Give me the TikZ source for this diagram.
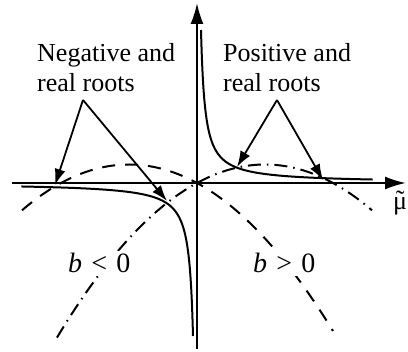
\documentclass[tikz,border=0pt]{standalone}
\usepackage{fontspec}
\setmainfont{Liberation Serif}
\usetikzlibrary{arrows.meta}
\begin{document}
\begin{tikzpicture}[x=1pt,y=-1pt,
  axis/.style={line width=2pt,-{Latex[length=21pt,width=13pt]}},
  curve/.style={line width=2pt},
  dashcurve/.style={line width=2pt,dash pattern=on 13pt off 10pt},
  dotcurve/.style={line width=2pt,dash pattern=on 13pt off 6pt on 1.5pt off 6pt},
  pointer/.style={line width=1.8pt,-{Latex[length=16pt,width=11pt]}},
  lbl/.style={font=\fontsize{26}{30}\selectfont,inner sep=0pt,align=left,anchor=north west},
  blbl/.style={font=\fontsize{28}{30}\selectfont,inner sep=3pt,fill=white,anchor=base west}]
\useasboundingbox (0,0) rectangle (408,352);
% axes
\coordinate (O) at (197,183);
\coordinate (xl) at (12,183);
\coordinate (xr) at (406,183);
\coordinate (yb) at (197,349);
\coordinate (yt) at (197,3);
% hyperbola
\draw[curve] plot[variable=\s,domain=-1.822:1.962,samples=120]
  ({197+24.74*exp(\s)},{183-24.74*exp(-\s)});
\draw[curve] plot[variable=\s,domain=-1.822:1.962,samples=120]
  ({197-24.74*exp(\s)},{183+24.74*exp(-\s)});
% parabolas
\draw[dashcurve] plot[variable=\t,domain=-175:136,samples=120]
  ({197+\t},{183+(0.063246*\t)*(0.063246*(\t+136))});
\draw[dotcurve] plot[variable=\t,domain=-140:175,samples=120]
  ({197+\t},{183+(0.063246*\t)*(0.063246*(\t-136))});
\draw[axis] (xl) -- (xr);
\draw[axis] (yb) -- (yt);
% labels
\node[lbl] (neg) at (37,43) {Negative and\\real roots};
\node[lbl] (pos) at (223,43) {Positive and\\real roots};
\node[blbl] (bneg) at (65,273) {\textit{b}\hspace{0.33em}<\hspace{0.33em}0};
\node[blbl] (bpos) at (250,273) {\textit{b}\hspace{0.33em}>\hspace{0.33em}0};
\node[font=\fontsize{26}{30}\selectfont,inner sep=0pt,anchor=base west] (mu) at (393,210) {μ};
\node[font=\fontsize{26}{30}\selectfont,inner sep=0pt,anchor=base] (tl) at ([yshift=1pt]mu.base) {˜};
% pointers
\coordinate (na) at (83,100);
\coordinate (pa) at (277,100);
\coordinate (n1) at (55,185);
\coordinate (n2) at (167,201);
\coordinate (p1) at (237,167);
\coordinate (p2) at (323,180);
\draw[pointer] (na) -- (n1);
\draw[pointer] (na) -- (n2);
\draw[pointer] (pa) -- (p1);
\draw[pointer] (pa) -- (p2);
\end{tikzpicture}
\end{document}
